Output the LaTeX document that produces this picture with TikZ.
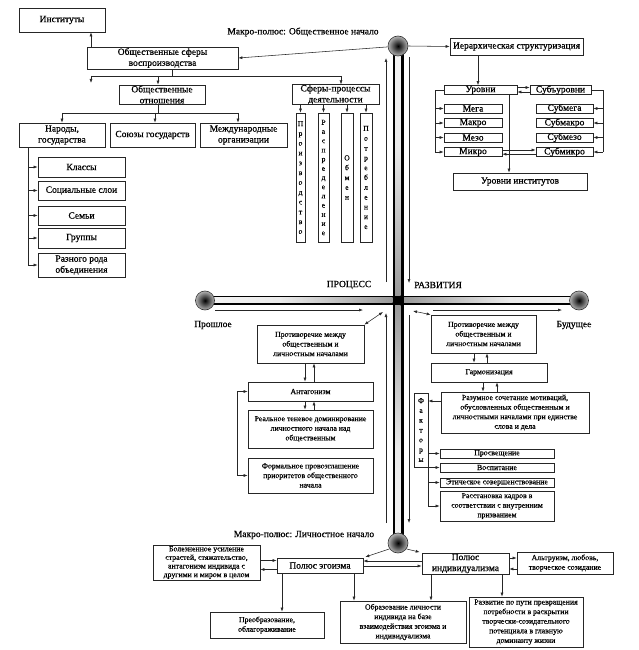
\documentclass[tikz,border=0pt]{standalone}
\usepackage{fontspec}
\setmainfont{Liberation Serif}[FakeBold=0.6]
\usetikzlibrary{arrows.meta}
\newcommand\fL{\fontsize{9.5}{11}\selectfont}
\newcommand\fS{\fontsize{7.8}{9.6}\selectfont}
\newcommand\fV{\fontsize{7.6}{9.8}\selectfont}
\pgfdeclarehorizontalshading{hbarL}{100bp}{color(0bp)=(white); color(45bp)=(white!92!black); color(80bp)=(black!45); color(100bp)=(black!85)}
\pgfdeclarehorizontalshading{hbarR}{100bp}{color(0bp)=(black!85); color(20bp)=(black!45); color(55bp)=(white!92!black); color(100bp)=(white)}
\pgfdeclareverticalshading{vbarT}{100bp}{color(0bp)=(black!85); color(20bp)=(black!45); color(55bp)=(white!92!black); color(100bp)=(white)}
\pgfdeclareverticalshading{vbarB}{100bp}{color(0bp)=(white); color(45bp)=(white!92!black); color(80bp)=(black!45); color(100bp)=(black!85)}
\begin{document}
\begin{tikzpicture}[x=1pt,y=-1pt,
  bx/.style={draw=black!85, line width=0.7pt, inner sep=0pt, align=center, font=\fL, fill=white},
  sbx/.style={bx, font=\fS},
  vbx/.style={bx, font=\fV},
  lbl/.style={inner sep=0pt, font=\fL},
  ln/.style={line width=0.55pt, black!85},
  arr/.style={ln, -{Latex[length=4pt,width=3pt]}},
  darr/.style={ln, {Latex[length=4pt,width=3pt]}-{Latex[length=4pt,width=3pt]}},
  circ/.style={circle, draw=black!80, line width=0.6pt, inner sep=0pt, minimum size=#1, shading=radial, inner color=black, outer color=white!70!black},
]
\useasboundingbox (0,0) rectangle (639,650);

% ---------- bars ----------
\fill[black] (205,295.5) rectangle (579,305);
\shade[shading=hbarL] (205,297.8) rectangle (392.5,302.8);
\shade[shading=hbarR] (403.5,297.8) rectangle (579,302.8);
\fill[black] (392.5,46) rectangle (403.5,543);
\shade[shading=vbarT] (395,46) rectangle (400.5,295.5);
\shade[shading=vbarB] (395,305) rectangle (400.5,543);

\node[circ=20] (tc) at (398,46) {};
\node[circ=20] (bc) at (398,543) {};
\node[circ=19] (lc) at (205,300.5) {};
\node[circ=19] (rc) at (579,300.5) {};

% ---------- labels ----------
\node[lbl] (mt) at (303,32) {Макро-полюс: Общественное начало};
\node[lbl] (mb) at (304,535) {Макро-полюс: Личностное начало};
\node[lbl] (pr) at (349,285) {ПРОЦЕСС};
\node[lbl] (rz) at (438,285) {РАЗВИТИЯ};
\node[lbl] (past) at (213,325) {Прошлое};
\node[lbl] (fut) at (574,325) {Будущее};

% ---------- top left ----------
\node[bx,minimum width=86,minimum height=24] (inst) at (62,20) {Институты};
\node[bx,minimum width=151,minimum height=22] (sfery) at (162.5,58) {Общественные сферы\\воспроизводства};
\node[bx,minimum width=86,minimum height=19] (otn) at (162,94.5) {Общественные\\отношения};
\node[bx,minimum width=86,minimum height=24] (narody) at (62,135) {Народы,\\государства};
\node[bx,minimum width=85,minimum height=24] (soyuzy) at (152.5,135) {Союзы государств};
\node[bx,minimum width=87,minimum height=24] (mezhd) at (243.5,135) {Международные\\организации};
\node[bx,minimum width=87,minimum height=20] (klassy) at (81.5,167) {Классы};
\node[bx,minimum width=87,minimum height=19] (sloi) at (81.5,190.5) {Социальные слои};
\node[bx,minimum width=87,minimum height=19] (semi) at (81.5,215.5) {Семьи};
\node[bx,minimum width=87,minimum height=20] (gruppy) at (81.5,238) {Группы};
\node[bx,minimum width=87,minimum height=24] (razn) at (81.5,265) {Разного рода\\объединения};

\node[bx,minimum width=87,minimum height=19] (sfproc) at (335.5,94.5) {Сферы-процессы\\деятельности};
\node[vbx,minimum width=9,minimum height=129] (proizv) at (300.5,177.5) {П\\р\\о\\и\\з\\в\\о\\д\\с\\т\\в\\о};
\node[vbx,minimum width=11,minimum height=129,font=\fontsize{7.6}{9.2}\selectfont] (raspr) at (323.5,177.5) {Р\\а\\с\\п\\р\\е\\д\\е\\л\\е\\н\\и\\е};
\node[vbx,minimum width=12,minimum height=129] (obmen) at (347,177.5) {О\\б\\м\\е\\н};
\node[vbx,minimum width=12,minimum height=129] (potr) at (366,177.5) {П\\о\\т\\р\\е\\б\\л\\е\\н\\и\\е};

% ---------- top right ----------
\node[bx,minimum width=133,minimum height=17] (ierarh) at (516.5,46.5) {Иерархическая структуризация};
\node[bx,minimum width=73,minimum height=9] (urovni) at (480.5,90) {Уровни};
\node[bx,minimum width=61,minimum height=9] (suburovni) at (560.5,90) {Субъуровни};
\node[bx,minimum width=58,minimum height=9] (mega) at (473,108.5) {Мега};
\node[bx,minimum width=58,minimum height=9] (makro) at (473,123) {Макро};
\node[bx,minimum width=58,minimum height=9] (mezo) at (473,137.5) {Мезо};
\node[bx,minimum width=58,minimum height=9] (mikro) at (473,152) {Микро};
\node[bx,minimum width=57,minimum height=9] (submega) at (564.5,108.5) {Субмега};
\node[bx,minimum width=57,minimum height=9] (submakro) at (564.5,123) {Субмакро};
\node[bx,minimum width=57,minimum height=9] (submezo) at (564.5,137.5) {Субмезо};
\node[bx,minimum width=57,minimum height=9] (submikro) at (564.5,152) {Субмикро};
\node[bx,minimum width=134,minimum height=17] (urinst) at (520,181.5) {Уровни институтов};

% ---------- middle left ----------
\node[sbx,minimum width=107,minimum height=38] (lpr) at (310.5,344) {Противоречие между\\общественным и\\личностным началами};
\node[sbx,minimum width=125,minimum height=19] (lant) at (310.5,391.5) {Антагонизм};
\node[sbx,minimum width=125,minimum height=38] (lreal) at (310.5,429) {Реальное теневое доминирование\\личностного начала над\\общественным};
\node[sbx,minimum width=125,minimum height=35] (lform) at (310.5,475.5) {Формальное провозглашение\\приоритетов общественного\\начала};

% ---------- middle right ----------
\node[sbx,minimum width=105,minimum height=38] (rpr) at (483.5,334) {Противоречие между\\общественным и\\личностным началами};
\node[sbx,minimum width=116,minimum height=19] (garm) at (489,372.5) {Гармонизация};
\node[sbx,minimum width=148,minimum height=41] (raz) at (515,412.5) {Разумное сочетание мотиваций,\\обусловленных общественным и\\личностными началами при единстве\\слова и дела};
\node[vbx,minimum width=14,minimum height=74] (fakt) at (421,430) {Ф\\а\\к\\т\\о\\р\\ы};
\node[sbx,minimum width=114,minimum height=9] (prosv) at (497,453.5) {Просвещение};
\node[sbx,minimum width=114,minimum height=9] (vosp) at (497,467.5) {Воспитание};
\node[sbx,minimum width=114,minimum height=9] (etich) at (497,482.5) {Этическое совершенствование};
\node[sbx,minimum width=114,minimum height=30] (rasst) at (497,506) {Расстановка кадров в\\соответствии с внутренним\\призванием};

% ---------- bottom ----------
\node[bx,minimum width=86,minimum height=15] (egoizm) at (320,565.5) {Полюс эгоизма};
\node[bx,minimum width=87,minimum height=21] (indiv) at (465.5,563.5) {Полюс\\индивидуализма};
\node[sbx,minimum width=107,minimum height=35,font=\fontsize{7.8}{8.6}\selectfont] (bolez) at (206.5,562.5) {Болезненное усиление\\страстей, стяжательство,\\антагонизм индивида с\\другими и миром в целом};
\node[sbx,minimum width=114,minimum height=26] (preobr) at (267,625) {Преобразование,\\облагораживание};
\node[sbx,minimum width=126,minimum height=42] (obraz) at (403,622) {Образование личности\\индивида на базе\\взаимодействия эгоизма и\\индивидуализма};
\node[sbx,minimum width=114,minimum height=50] (razv) at (526,622) {Развитие по пути превращения\\потребности в раскрытии\\творчески-созидательного\\потенциала в главную\\доминанту жизни};
\node[sbx,minimum width=96,minimum height=22] (altr) at (565,563) {Альтруизм, любовь,\\творческое созидание};

% ---------- helper coordinates ----------
\coordinate (b1L) at (91,76);
\coordinate (b1R) at (341,76);
\coordinate (b1J) at (172,76);
\coordinate (b1O) at (158,76);
\coordinate (b1end) at (91,83);
\coordinate (b2L) at (62,113);
\coordinate (b2M) at (155,113);
\coordinate (b2R) at (238,113);
\coordinate (b2J) at (158,113);
\coordinate (t1) at (28,0);
\coordinate (h1) at (478,0);
\coordinate (h2) at (509,0);
\coordinate (ua) at (0,87.5);
\coordinate (ub) at (0,92);
\coordinate (lb) at (435,0);
\coordinate (rb) at (603,0);
\coordinate (ma) at (0,150);
\coordinate (mb2) at (0,154.2);

% ---------- top connectors ----------
\draw[arr] (b1L |- sfery.north) -- (b1L |- inst.south);
\draw[arr] (tc.185) -- (sfery.east);
\draw[ln] (b1J |- sfery.south) -- (b1J);
\draw[ln] (b1L) -- (b1R);
\draw[arr] (b1L) -- (b1end);
\draw[arr] (b1O) -- (b1O |- otn.north);
\draw[arr] (b1R) -- (b1R |- sfproc.north);
\draw[ln] (b2J |- otn.south) -- (b2J);
\draw[ln] (b2L) -- (b2R);
\draw[arr] (b2L) -- (b2L |- narody.north);
\draw[arr] (b2M) -- (b2M |- soyuzy.north);
\draw[arr] (b2R) -- (b2R |- mezhd.north);
\draw[ln] (t1 |- narody.south) -- (t1 |- razn.west);
\foreach \n in {klassy,sloi,semi,gruppy,razn} \draw[arr] (t1 |- \n.west) -- (\n.west);
\foreach \n in {proizv,raspr,obmen,potr} \draw[arr] (\n.north |- sfproc.south) -- (\n.north);

\draw[arr] (tc.east) -- (ierarh.west);
\draw[arr] (h1 |- ierarh.south) -- (h1 |- urovni.north);
\draw[arr] (urovni.east |- ua) -- (suburovni.west |- ua);
\draw[arr] (suburovni.west |- ub) -- (urovni.east |- ub);
\draw[ln] (urovni.west) -| (lb |- mikro.west);
\foreach \n in {mega,makro,mezo,mikro} \draw[arr] (lb |- \n.west) -- (\n.west);
\draw[ln] (suburovni.east) -| (rb |- submikro.east);
\foreach \n in {submega,submakro,submezo,submikro} \draw[arr] (rb |- \n.east) -- (\n.east);
\draw[arr] (mikro.east |- ma) -- (submikro.west |- ma);
\draw[arr] (submikro.west |- mb2) -- (mikro.east |- mb2);
\draw[arr] (h2 |- urovni.south) -- (h2 |- urinst.north);

% ---------- thin lines along bars ----------
\coordinate (vl1a) at (386,282); \coordinate (vl1b) at (386,58);
\coordinate (vr1a) at (409,57);  \coordinate (vr1b) at (409,283);
\coordinate (vl2a) at (386,523); \coordinate (vl2b) at (386,313);
\coordinate (vr2a) at (409,315); \coordinate (vr2b) at (409,523);
\coordinate (hl2a) at (215,310); \coordinate (hl2b) at (363,310);
\coordinate (hr2a) at (433,310); \coordinate (hr2b) at (562,310);
\draw[arr] (vl1a) -- (vl1b);
\draw[arr] (vr1a) -- (vr1b);
\draw[arr] (vl2a) -- (vl2b);
\draw[arr] (vr2a) -- (vr2b);
\draw[arr] (hl2a) -- (hl2b);
\draw[arr] (hr2a) -- (hr2b);
\coordinate (dl) at (383,312);
\coordinate (dr) at (413,311);
\draw[darr] (lpr.north east) -- (dl);
\draw[darr] (dr) -- (rpr.north west);

% ---------- middle left connectors ----------
\coordinate (p1) at (305,0); \coordinate (p2) at (314,0);
\draw[arr] (p1 |- lpr.south) -- (p1 |- lant.north);
\draw[arr] (p2 |- lant.north) -- (p2 |- lpr.south);
\draw[arr] (p1 |- lant.south) -- (p1 |- lreal.north);
\draw[arr] (p2 |- lreal.north) -- (p2 |- lant.south);
\coordinate (lbr) at (237,0);
\draw[darr] (lant.west) -| (lbr |- lform.west) -- (lform.west);

% ---------- middle right connectors ----------
\coordinate (q1) at (474,0); \coordinate (q2) at (487,0);
\coordinate (q3) at (483,0); \coordinate (q4) at (497,0);
\draw[arr] (q1 |- rpr.south) -- (q1 |- garm.north);
\draw[arr] (q2 |- garm.north) -- (q2 |- rpr.south);
\draw[arr] (q3 |- garm.south) -- (q3 |- raz.north);
\draw[arr] (q4 |- raz.north) -- (q4 |- garm.south);
\coordinate (fy) at (0,401);
\draw[arr] (raz.west |- fy) -- (fakt.east |- fy);
\draw[ln] (fakt.south east) -- (fakt.east |- rasst.west);
\foreach \n in {prosv,vosp,etich,rasst} \draw[arr] (fakt.east |- \n.west) -- (\n.west);

% ---------- bottom connectors ----------
\draw[arr, shorten >=2pt] (bc.215) -- (egoizm.north east);
\draw[arr, shorten >=2pt] (bc.325) -- (indiv.north west);
\coordinate (ya) at (0,561); \coordinate (yb) at (0,566);
\coordinate (yc) at (0,560.5); \coordinate (yd) at (0,569.5);
\coordinate (ye) at (0,558); \coordinate (yf) at (0,569);
\draw[arr] (indiv.west |- ya) -- (egoizm.east |- ya);
\draw[arr] (egoizm.east |- yb) -- (indiv.west |- yb);
\draw[arr] (bolez.east |- yc) -- (egoizm.west |- yc);
\draw[arr] (egoizm.west |- yd) -- (bolez.east |- yd);
\draw[arr] (indiv.east |- ye) -- (altr.west |- ye);
\draw[arr] (altr.west |- yf) -- (indiv.east |- yf);
\coordinate (k1) at (282,0); \coordinate (k2) at (354,0);
\coordinate (k3) at (431,0); \coordinate (k4) at (502,0);
\draw[arr] (k1 |- egoizm.south) -- (k1 |- preobr.north);
\draw[arr] (k2 |- egoizm.south) -- (k2 |- obraz.north);
\draw[arr] (k3 |- indiv.south) -- (k3 |- obraz.north);
\draw[arr] (k4 |- indiv.south) -- (k4 |- razv.north);
\end{tikzpicture}
\end{document}
